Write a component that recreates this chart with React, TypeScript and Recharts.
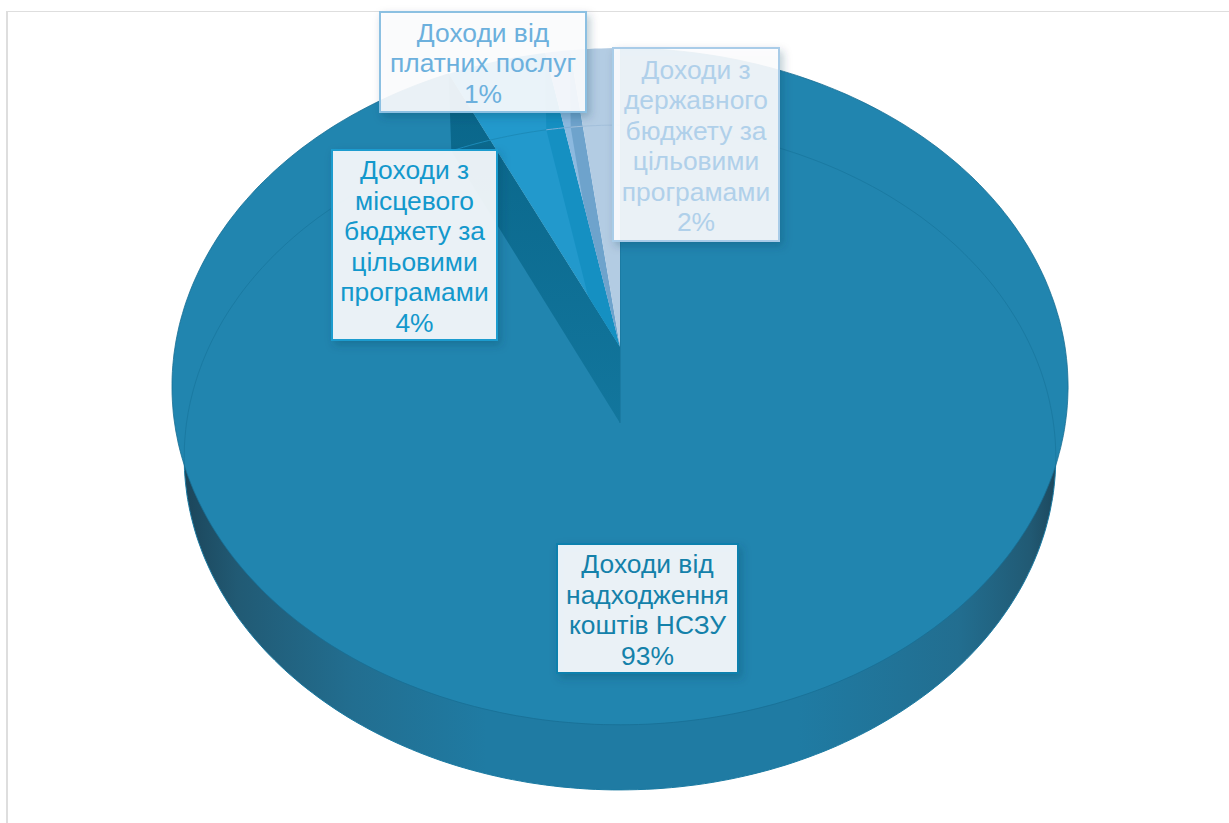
import { PieChart, Pie } from 'recharts';

const categories = [
  'Доходи від надходження коштів НСЗУ',
  'Доходи з місцевого бюджету за цільовими програмами',
  'Доходи від платних послуг',
  'Доходи з державного бюджету за цільовими програмами',
];
const shares = [93, 4, 1, 2];

// how each category name wraps inside its callout
const labelLines = [
  ['Доходи від', 'надходження', 'коштів НСЗУ'],
  ['Доходи з', 'місцевого', 'бюджету за', 'цільовими', 'програмами'],
  ['Доходи від', 'платних послуг'],
  ['Доходи з', 'державного', 'бюджету за', 'цільовими', 'програмами'],
];

const sliceColors = ['#2185af', '#2299cc', '#8cb9df', '#b3cce3'];
const wallColors = ['#1a78a0', 'url(#wedgeShade)', '#1590c2', '#6ea3cc'];
const lineColors = ['#1a7aa2', '#1c8bb9', '#7eaed6', '#a3c0db'];
const textColors = ['#1481aa', '#1398cc', '#6cb0dd', '#b0d0ea'];
const borderColors = ['#0e80ad', '#1d9ccf', '#8cc0e2', '#a9cce8'];

const labelBoxes = [
  { x: 557, y: 544, w: 181, h: 129 },
  { x: 332, y: 150, w: 165, h: 190 },
  { x: 380, y: 12, w: 206, h: 100 },
  { x: 613, y: 48, w: 166, h: 193 },
];

const PIE_CX = 620;
const PIE_CY = 347;
const PIE_R = 445;
const DEPTH = 76;
const LINE_H = 30.5;

// perspective of the two discs: the upper one sits closer to the viewer
const upperDisc = { k: 0.1166, rx: 1, ry: 0.75, dy: 0 };
const lowerDisc = { k: 0.1037, rx: 0.974, ry: 0.739, dy: DEPTH };

type Disc = typeof upperDisc;

const totalShare = shares.reduce((sum, v) => sum + v, 0);

function rimPoint(cx: number, cy: number, r: number, disc: Disc, deg: number) {
  const a = ((90 - deg) * Math.PI) / 180;
  const u = Math.sin(a);
  const v = Math.cos(a);
  const s = 1 / (1 + disc.k * v);
  return `${(cx + u * r * disc.rx * s).toFixed(1)},${(cy + disc.dy - v * r * disc.ry * s).toFixed(1)}`;
}

function arcPoints(cx: number, cy: number, r: number, disc: Disc, from: number, to: number) {
  const steps = Math.max(4, Math.ceil(Math.abs(to - from)));
  const pts: string[] = [];
  for (let i = 0; i <= steps; i++) {
    pts.push(rimPoint(cx, cy, r, disc, from + ((to - from) * i) / steps));
  }
  return pts;
}

function DiscSlice(props: any) {
  const { cx, cy, outerRadius, startAngle, endAngle, name } = props;
  const i = categories.indexOf(name);
  const upper = arcPoints(cx, cy, outerRadius, upperDisc, startAngle, endAngle);
  const lower = arcPoints(cx, cy, outerRadius, lowerDisc, startAngle, endAngle);
  const upperApex = `${cx},${cy}`;
  const lowerApex = `${cx},${cy + DEPTH}`;
  const isBody = Math.abs(endAngle - startAngle) > 180;

  // a cut wall only shows through the face of the slice before it
  const prevSweep = i > 1 ? (shares[i - 1] / totalShare) * 360 : 0;
  const clipId = `prevFace${i}`;
  const prevFace =
    i > 1 ? arcPoints(cx, cy, outerRadius, upperDisc, startAngle + prevSweep, startAngle) : [];

  return (
    <g>
      {isBody && <polygon points={[lowerApex, ...lower].join(' ')} fill="url(#rimShade)" />}
      <polygon points={[upperApex, ...upper].join(' ')} fill={sliceColors[i]} />
      {i > 1 && (
        <clipPath id={clipId}>
          <polygon points={[upperApex, ...prevFace].join(' ')} />
        </clipPath>
      )}
      <polygon
        points={[upperApex, upper[0], lower[0], lowerApex].join(' ')}
        fill={wallColors[i]}
        stroke={i === 0 ? wallColors[i] : 'none'}
        strokeWidth={1}
        clipPath={i > 1 ? `url(#${clipId})` : undefined}
      />
      <polyline points={lower.join(' ')} fill="none" stroke={lineColors[i]} strokeWidth={1} />
      {isBody && <polyline points={upper.join(' ')} fill="none" stroke="#186f94" strokeWidth={0.8} />}
    </g>
  );
}

function Callout(props: any) {
  const i = props.index;
  const box = labelBoxes[i];
  const lines = [...labelLines[i], `${shares[i]}%`];
  const firstBase = box.y + (box.h - lines.length * LINE_H) / 2 + 25.5;
  return (
    <g>
      <rect
        x={box.x}
        y={box.y}
        width={box.w}
        height={box.h}
        fill="#fdfdff"
        fillOpacity={0.9}
        stroke={borderColors[i]}
        strokeWidth={2}
        filter="url(#boxShadow)"
      />
      <text
        textAnchor="middle"
        fontFamily="'Liberation Sans', Arial, sans-serif"
        fontSize={26.4}
        fill={textColors[i]}
      >
        {lines.map((line, n) => (
          <tspan key={n} x={box.x + box.w / 2} y={firstBase + n * LINE_H}>
            {line}
          </tspan>
        ))}
      </text>
    </g>
  );
}

const tableData = categories.map((name, i) => ({ name, value: shares[i] }));

export default function App() {
  return (
    <div style={{ position: 'absolute', left: 0, top: 0, width: 1229, height: 823, overflow: 'hidden', background: '#fff' }}>
      <div
        style={{
          position: 'absolute',
          left: 6,
          top: 11,
          width: 1300,
          height: 900,
          boxSizing: 'border-box',
          borderStyle: 'solid',
          borderColor: '#dedede',
          borderWidth: '1px 0 0 2px',
        }}
      />
      <div style={{ position: 'absolute', left: 0, top: 0 }}>
        <PieChart width={1229} height={823} margin={{ top: 0, right: 0, bottom: 0, left: 0 }}>
          <defs>
            <linearGradient id="rimShade" gradientUnits="userSpaceOnUse" x1={175} y1={0} x2={1065} y2={0}>
              <stop offset="0" stopColor="#1b4256" />
              <stop offset="0.07" stopColor="#215a74" />
              <stop offset="0.2" stopColor="#226e90" />
              <stop offset="0.35" stopColor="#1f7ba3" />
              <stop offset="0.7" stopColor="#1f7ba3" />
              <stop offset="0.88" stopColor="#226e90" />
              <stop offset="0.96" stopColor="#215a74" />
              <stop offset="1" stopColor="#1b4256" />
            </linearGradient>
            <linearGradient id="wedgeShade" gradientUnits="userSpaceOnUse" x1={0} y1={113} x2={0} y2={423}>
              <stop offset="0" stopColor="#0a678b" />
              <stop offset="1" stopColor="#12769d" />
            </linearGradient>
            <filter id="boxShadow" x="-15%" y="-15%" width="130%" height="130%">
              <feDropShadow dx={3} dy={4} stdDeviation={4} floodColor="#0a3c55" floodOpacity={0.28} />
            </filter>
          </defs>
          <Pie
            data={tableData}
            dataKey="value"
            nameKey="name"
            cx={PIE_CX}
            cy={PIE_CY}
            innerRadius={0}
            outerRadius={PIE_R}
            startAngle={90}
            endAngle={-270}
            stroke="none"
            shape={DiscSlice}
            label={Callout}
            labelLine={false}
            isAnimationActive={false}
          />
        </PieChart>
      </div>
    </div>
  );
}
